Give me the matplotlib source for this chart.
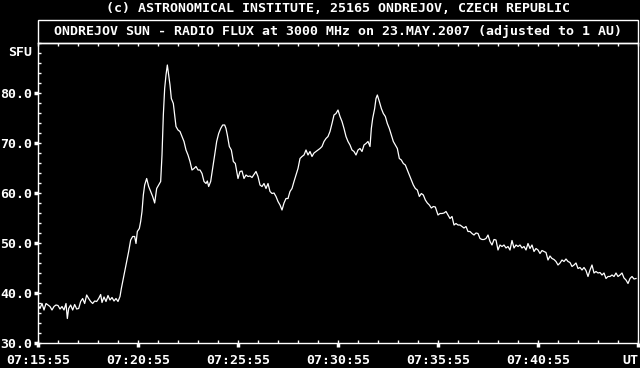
import numpy as np
import matplotlib.pyplot as plt
from matplotlib.ticker import MultipleLocator, FormatStrFormatter
from matplotlib.patches import Rectangle

# seconds after 07:15:55 UT
secs = [
    0, 6, 12, 18, 24, 30, 36, 42, 48, 54, 60, 66, 72, 78, 84, 88, 92, 98, 104, 110,
    116, 122, 128, 134, 140, 146, 152, 158, 164, 170, 176, 182, 188, 192, 198, 204, 210, 216, 222, 228,
    234, 240, 246, 250, 256, 262, 266, 272, 278, 284, 290, 294, 298, 304, 308, 312, 316, 320, 326, 332,
    338, 344, 350, 356, 362, 368, 372, 376, 380, 384, 388, 392, 396, 400, 406, 410, 414, 420, 426, 432,
    438, 444, 450, 456, 462, 468, 474, 480, 486, 492, 498, 504, 508, 512, 518, 524, 530, 536, 542, 548,
    554, 560, 564, 568, 574, 580, 586, 592,
    600, 606, 612, 618, 624, 630, 636, 642, 648, 654, 660, 666, 672, 678, 684, 690, 696, 702, 708, 714,
    720, 726, 732, 738, 744, 750, 756, 762, 768, 774, 780, 786, 792, 798, 804, 810, 816, 822, 828, 834,
    840, 846, 852, 858, 864, 870, 876, 882, 888, 894, 900, 906, 912, 918, 924, 930, 936, 942, 948, 954,
    960, 966, 972, 978, 984, 990, 996, 1000, 1004, 1010, 1014, 1018, 1024, 1030, 1036, 1042, 1048, 1054, 1060, 1066,
    1072, 1078, 1084, 1090, 1096, 1102, 1108, 1114, 1120, 1126, 1132, 1138, 1144, 1150, 1156, 1162, 1168, 1174, 1180, 1186,
    1192,
    1200, 1206, 1212, 1218, 1224, 1230, 1236, 1242, 1248, 1254, 1260, 1266, 1272, 1278, 1284, 1290, 1296, 1302, 1308, 1314,
    1320, 1326, 1332, 1338, 1344, 1350, 1356, 1362, 1368, 1374, 1380, 1386, 1392, 1398, 1404, 1410, 1416, 1422, 1428, 1434,
    1440, 1446, 1452, 1458, 1464, 1470, 1476, 1482, 1488, 1494, 1500, 1506, 1512, 1518, 1524, 1530, 1536, 1542, 1548, 1554,
    1560, 1566, 1572, 1578, 1584, 1590, 1596, 1602, 1608, 1614, 1620, 1626, 1632, 1638, 1644, 1650, 1656, 1662, 1668, 1674,
    1680, 1686, 1692, 1698, 1704, 1710, 1716, 1722, 1728, 1734, 1740, 1746, 1752, 1758, 1764, 1770, 1776, 1782, 1788, 1794,
]

# radio flux in solar flux units
sfu = [
    37.6, 36.9, 37.9, 36.6, 37.9, 37.6, 37.3, 36.6, 37.3, 37.6, 37.5, 36.8, 37.3, 36.6, 37.9, 34.9, 36.9, 37.6, 36.6, 37.7,
    36.8, 36.9, 38.3, 38.9, 37.9, 39.6, 38.9, 38.3, 37.9, 38.4, 38.3, 38.9, 39.7, 38.1, 39.2, 38.3, 39.5, 38.6, 39.1, 38.4,
    38.9, 38.3, 39.3, 40.9, 42.9, 44.9, 46.3, 48.3, 50.6, 51.3, 51.3, 49.9, 52.3, 52.9, 54.3, 56.3, 59.6, 61.6, 62.9, 61.3,
    60.3, 59.3, 58.0, 60.9, 61.6, 62.3, 67.6, 75.6, 80.9, 83.6, 85.6, 83.6, 81.6, 78.9, 77.9, 75.6, 73.3, 72.6, 72.3, 71.3,
    70.3, 68.6, 67.6, 66.3, 64.6, 64.9, 65.3, 64.6, 64.6, 63.9, 62.3, 61.9, 62.4, 61.3, 62.3, 64.9, 67.6, 70.3, 71.9, 72.9,
    73.6, 73.6, 72.9, 71.6, 69.3, 68.6, 66.3, 65.9,
    62.9, 64.3, 64.4, 62.9, 63.6, 63.3, 63.4, 63.1, 63.7, 64.3, 63.3, 61.6, 61.3, 61.9, 60.9, 61.9, 60.3, 59.9, 60.0, 59.3,
    58.3, 57.6, 56.6, 58.0, 58.9, 58.9, 60.3, 60.9, 62.3, 63.6, 64.9, 66.9, 67.3, 67.6, 68.6, 67.6, 68.3, 67.3, 68.0, 68.3,
    68.6, 68.9, 69.3, 70.3, 70.9, 71.3, 72.3, 73.9, 75.6, 75.9, 76.6, 75.3, 74.3, 72.9, 71.3, 70.3, 69.6, 68.6, 68.3, 67.6,
    68.6, 68.9, 68.3, 69.6, 69.9, 70.3, 69.3, 72.9, 74.9, 76.9, 78.9, 79.6, 78.3, 76.9, 75.9, 75.3, 73.9, 72.9, 71.6, 70.3,
    69.6, 68.9, 66.9, 66.6, 65.9, 65.6, 64.6, 63.6, 62.6, 61.6, 60.9, 60.6, 59.3, 59.9, 59.6, 58.6, 58.0, 57.6, 57.0, 57.3,
    57.2,
    55.6, 55.9, 55.9, 56.0, 56.3, 55.6, 54.9, 55.3, 53.6, 53.9, 53.6, 53.6, 53.3, 53.0, 53.3, 52.3, 52.3, 51.9, 51.6, 52.0,
    51.9, 50.9, 50.7, 50.7, 50.9, 51.6, 50.3, 49.6, 50.7, 50.6, 48.6, 49.6, 49.3, 49.6, 49.0, 49.3, 48.6, 50.5, 49.0, 49.6,
    49.3, 49.6, 49.0, 49.3, 48.6, 49.9, 48.9, 49.6, 48.3, 48.9, 48.6, 47.9, 48.5, 48.3, 48.1, 46.6, 47.4, 46.9, 46.7, 46.3,
    45.6, 46.0, 46.6, 46.3, 46.8, 46.3, 46.1, 45.3, 45.6, 46.0, 44.9, 45.1, 44.6, 45.1, 44.5, 43.3, 44.6, 45.6, 44.0, 44.3,
    44.0, 44.1, 43.6, 44.0, 42.9, 43.3, 43.3, 43.6, 43.3, 44.0, 43.3, 43.6, 44.0, 43.0, 42.6, 41.9, 42.9, 43.3, 42.8, 42.9,
]

tick_secs = [0, 300, 600, 900, 1200, 1500, 1800]
tick_labels = ['07:15:55', '07:20:55', '07:25:55', '07:30:55', '07:35:55', '07:40:55', 'UT']

font = dict(family='DejaVu Sans Mono', size=9.5, weight='bold', color='white')

fig = plt.figure(figsize=(6.4, 3.68), dpi=100, facecolor='black')
W, H = 640, 368
ax = fig.add_axes([38 / W, (H - 343) / H, 600 / W, 300 / H], facecolor='black')

ax.plot(secs, sfu, color='white', lw=0.9)

ax.set_xlim(0, 1800)
ax.set_ylim(30, 90)
for s in ax.spines.values():
    s.set_color('white')
    s.set_linewidth(1)

ax.set_xticks(tick_secs)
ax.set_xticklabels(tick_labels)
ax.xaxis.set_minor_locator(MultipleLocator(60))
ax.xaxis.remove_overlapping_locs = False
ax.set_yticks([30, 40, 50, 60, 70, 80])
ax.yaxis.set_major_formatter(FormatStrFormatter('%.1f'))
ax.yaxis.set_minor_locator(MultipleLocator(2))
ax.yaxis.remove_overlapping_locs = False

ax.tick_params(which='major', direction='out', length=3, width=2.5, color='white',
               labelcolor='white', pad=1)
ax.tick_params(which='minor', direction='in', length=2.5, width=1, color='white',
               top=True)
ax.tick_params(axis='x', which='major', pad=5)
for lab in ax.get_xticklabels() + ax.get_yticklabels():
    lab.set_fontfamily('DejaVu Sans Mono')
    lab.set_fontsize(9.5)
    lab.set_fontweight('bold')
ax.get_xticklabels()[-1].set_horizontalalignment('right')

# title box above the plot
fig.patches.append(Rectangle((38 / W, (H - 43) / H), 600 / W, 23 / H, transform=fig.transFigure,
                             fill=False, edgecolor='white', lw=1))
fig.text(338 / W, (H - 31.5) / H, 'ONDREJOV SUN - RADIO FLUX at 3000 MHz on 23.MAY.2007 (adjusted to 1 AU)',
         ha='center', va='center', **font)
fig.text(338 / W, (H - 9) / H, '(c) ASTRONOMICAL INSTITUTE, 25165 ONDREJOV, CZECH REPUBLIC',
         ha='center', va='center', **font)
fig.text(32 / W, (H - 52) / H, 'SFU', ha='right', va='center', **font)

fig.savefig('out.png', dpi=100, facecolor='black')
